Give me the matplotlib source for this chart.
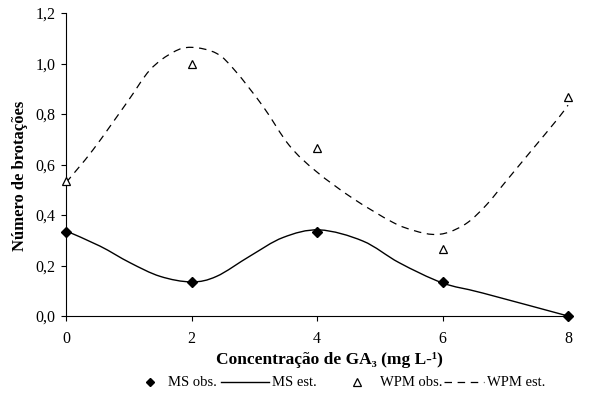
import matplotlib
matplotlib.use("Agg")
import matplotlib.pyplot as plt
from matplotlib.lines import Line2D
from matplotlib.path import Path
from matplotlib.patches import PathPatch

plt.rcParams['font.family'] = ['Liberation Serif', 'DejaVu Serif']

# Observed data
conc = [0, 2, 4, 6, 8]
ms_obs = [0.333, 0.133, 0.333, 0.133, 0.0]
wpm_obs = [0.533, 1.0, 0.667, 0.267, 0.867]

# Estimated curves
ms_est_x = [0, 0.54, 1.02, 1.5, 2.0, 2.4, 2.93, 3.46, 4.04, 4.73, 5.31, 6.0, 6.64, 8.0]
ms_est_y = [0.337, 0.277, 0.211, 0.157, 0.135, 0.157, 0.237, 0.311, 0.341, 0.297, 0.211, 0.131, 0.091, 0.0]

wpm_est_x = [0, 0.43, 0.97, 1.34, 1.71, 2.0, 2.4, 2.7, 3.14, 3.56, 3.99, 4.57, 5.2, 5.55, 5.85, 6.1, 6.4, 6.7, 7.0, 7.4, 7.85, 8.0]
wpm_est_y = [0.528, 0.658, 0.845, 0.975, 1.045, 1.064, 1.04, 0.97, 0.83, 0.675, 0.572, 0.466, 0.372, 0.338, 0.323, 0.332, 0.37, 0.44, 0.53, 0.65, 0.785, 0.835]

xticks = [0, 2, 4, 6, 8]
yticks = [0.0, 0.2, 0.4, 0.6, 0.8, 1.0, 1.2]
ytick_labels = ['0,0', '0,2', '0,4', '0,6', '0,8', '1,0', '1,2']


def smooth_path(xs, ys):
    """Bezier path (Catmull-Rom style) through the given points."""
    pts = list(zip(xs, ys))
    verts = [pts[0]]
    codes = [Path.MOVETO]
    n = len(pts)
    for i in range(n - 1):
        p0 = pts[i - 1] if i > 0 else pts[i]
        p1 = pts[i]
        p2 = pts[i + 1]
        p3 = pts[i + 2] if i + 2 < n else pts[i + 1]
        c1 = (p1[0] + (p2[0] - p0[0]) / 6.0, p1[1] + (p2[1] - p0[1]) / 6.0)
        c2 = (p2[0] - (p3[0] - p1[0]) / 6.0, p2[1] - (p3[1] - p1[1]) / 6.0)
        verts += [c1, c2, p2]
        codes += [Path.CURVE4] * 3
    return Path(verts, codes)


fig = plt.figure(figsize=(5.95, 3.99), dpi=100)
ax = fig.add_axes([66/595, 1-316/399, 502/595, 303/399])

ax.add_patch(PathPatch(smooth_path(ms_est_x, ms_est_y), fill=False, edgecolor='black', lw=1.0, clip_on=False))
ax.add_patch(PathPatch(smooth_path(wpm_est_x, wpm_est_y), fill=False, edgecolor='black', lw=0.9,
                       linestyle=(0, (6, 4.5)), clip_on=False))
ax.plot(conc, ms_obs, linestyle='none', marker='D', ms=5, color='black', clip_on=False, zorder=5)
ax.plot(conc, wpm_obs, linestyle='none', marker='^', ms=6, mfc='white', mec='black', mew=0.9, clip_on=False, zorder=5)

ax.set_xlim(0, 8)
ax.set_ylim(0, 1.2)
ax.set_xticks(xticks)
ax.set_xticklabels([str(t) for t in xticks])
ax.set_yticks(yticks)
ax.set_yticklabels(ytick_labels)
ax.spines['top'].set_visible(False)
ax.spines['right'].set_visible(False)
ax.tick_params(direction='out', length=3.5, width=0.8, labelsize=11.5, pad=4)
ax.tick_params(axis='x', pad=7)

ax.set_ylabel('Número de brotações', fontsize=12, fontweight='bold')
ax.yaxis.set_label_coords(-0.076, 0.462)
ax.set_xlabel('Concentração de GA₃ (mg L-¹)', fontsize=12.5, fontweight='bold', labelpad=6)
ax.xaxis.set_label_coords(0.524, -0.118)

# Legend drawn manually in figure coordinates
ly = 1 - 382/399
def fx(px):
    return px/595
fs = 10.5
fig.add_artist(Line2D([fx(150)], [ly], marker='D', ms=4.5, color='black', transform=fig.transFigure))
fig.text(fx(168), ly, 'MS obs.', fontsize=fs, va='center', ha='left')
fig.add_artist(Line2D([fx(221), fx(269)], [ly, ly], color='black', lw=1.0, transform=fig.transFigure))
fig.text(fx(272), ly, 'MS est.', fontsize=fs, va='center', ha='left')
fig.add_artist(Line2D([fx(357)], [ly], marker='^', ms=5.5, mfc='white', mec='black', mew=0.9, transform=fig.transFigure))
fig.text(fx(380), ly, 'WPM obs.', fontsize=fs, va='center', ha='left')
fig.add_artist(Line2D([fx(444), fx(484)], [ly, ly], color='black', lw=0.9, linestyle=(0, (6, 4.5)), transform=fig.transFigure))
fig.text(fx(487), ly, 'WPM est.', fontsize=fs, va='center', ha='left')

fig.savefig('out.png', dpi=100)
